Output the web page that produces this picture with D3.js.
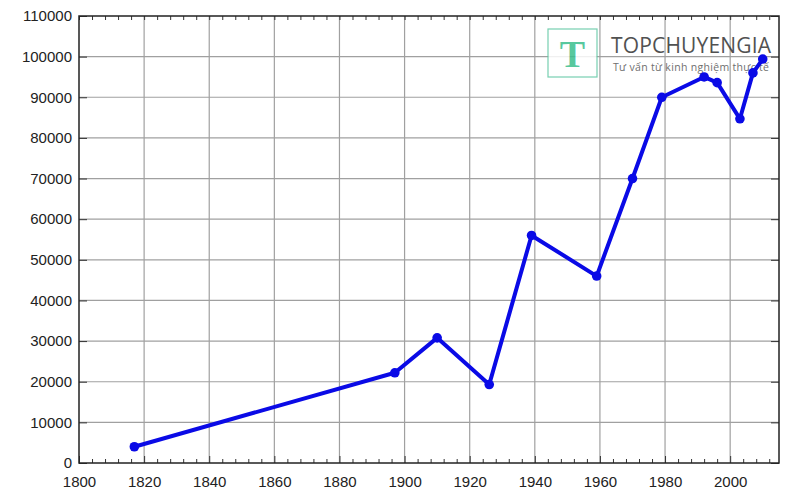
<!DOCTYPE html>
<html><head><meta charset="utf-8">
<script src="https://cdn.jsdelivr.net/npm/d3@7"></script>
<style>body{margin:0;background:#fff}svg{display:block}</style>
</head><body>
<script>
const years = [1817, 1897, 1910, 1926, 1939, 1959, 1970, 1979, 1992, 1996, 2003, 2007, 2010];
const values = [4000, 22200, 30800, 19300, 56000, 46000, 70000, 90000, 95000, 93600, 84700, 96000, 99400];
const xTicks = [1800, 1820, 1840, 1860, 1880, 1900, 1920, 1940, 1960, 1980, 2000];
const yTicks = [0,10000,20000,30000,40000,50000,60000,70000,80000,90000,100000,110000];

const W = 800, H = 500;
const m = {left:79, right:21, top:16, bottom:37};
const svg = d3.select("body").append("svg").attr("width",W).attr("height",H);
const x = d3.scaleLinear().domain([1800,2015]).range([m.left, W-m.right]);
const y = d3.scaleLinear().domain([0,110000]).range([H-m.bottom, m.top]);
const font = "'Liberation Sans', Arial, sans-serif";

// grid
const g = svg.append("g");
g.selectAll(".vx").data(xTicks.slice(1)).join("line")
  .attr("x1",d=>x(d)).attr("x2",d=>x(d)).attr("y1",y(0)).attr("y2",y(110000))
  .attr("stroke","#a0a0a0").attr("stroke-width",1.2);
g.selectAll(".hy").data(yTicks.slice(1,-1)).join("line")
  .attr("x1",x(1800)).attr("x2",x(2015)).attr("y1",d=>y(d)).attr("y2",d=>y(d))
  .attr("stroke","#a0a0a0").attr("stroke-width",1.2);

// axes
const minor = d3.range(1804, 2015, 4).filter(d=>d%20!==0);
svg.append("g").attr("transform",`translate(0,${y(0)})`)
  .call(d3.axisBottom(x).tickValues(xTicks).tickFormat(d3.format("d")).tickSize(-7).tickPadding(13))
  .call(a=>a.select(".domain").remove())
  .call(a=>a.selectAll("text").attr("font-size",15).attr("font-family",font).attr("fill","#222"))
  .call(a=>a.selectAll("line").attr("stroke","#333"));
svg.append("g").attr("transform",`translate(0,${y(0)})`)
  .call(d3.axisBottom(x).tickValues(minor).tickFormat("").tickSize(-4))
  .call(a=>a.select(".domain").remove())
  .call(a=>a.selectAll("line").attr("stroke","#333"));
svg.append("g").attr("transform",`translate(0,${y(110000)})`)
  .call(d3.axisTop(x).tickValues(minor.concat(xTicks)).tickFormat("").tickSize(-4))
  .call(a=>a.select(".domain").remove())
  .call(a=>a.selectAll("line").attr("stroke","#333"));
svg.append("g").attr("transform",`translate(${x(1800)},0)`)
  .call(d3.axisLeft(y).tickValues(yTicks).tickFormat(d3.format("d")).tickSize(-8).tickPadding(7))
  .call(a=>a.select(".domain").remove())
  .call(a=>a.selectAll("text").attr("font-size",15).attr("font-family",font).attr("fill","#222"))
  .call(a=>a.selectAll("line").attr("stroke","#333"));
svg.append("g").attr("transform",`translate(${x(2015)},0)`)
  .call(d3.axisRight(y).tickValues(yTicks).tickFormat("").tickSize(-8))
  .call(a=>a.select(".domain").remove())
  .call(a=>a.selectAll("line").attr("stroke","#333"));

// frame
svg.append("rect").attr("x",x(1800)).attr("y",y(110000))
  .attr("width",x(2015)-x(1800)).attr("height",y(0)-y(110000))
  .attr("fill","none").attr("stroke","#222").attr("stroke-width",1.5);

// watermark
const wm = svg.append("g").attr("opacity",0.85);
wm.append("rect").attr("x",548).attr("y",29).attr("width",49).attr("height",48)
  .attr("fill","#fff").attr("stroke","#5fc9a3").attr("stroke-width",1.2);
wm.append("text").attr("x",572.5).attr("y",67).attr("text-anchor","middle")
  .attr("font-family","'Liberation Serif', serif").attr("font-weight","bold").attr("font-size",38)
  .attr("fill","#3cbf8e").text("T");
wm.append("text").attr("x",611).attr("y",53).attr("font-family","'Open Sans', sans-serif")
  .attr("font-size",21).attr("fill","#333").attr("textLength",160).text("TOPCHUYENGIA");
wm.append("text").attr("x",613).attr("y",71).attr("font-family","'Open Sans', sans-serif")
  .attr("font-size",10.5).attr("fill","#555").attr("textLength",156).text("Tư vấn từ kinh nghiệm thực tế");

// data
const pts = years.map((d,i)=>[d,values[i]]);
svg.append("path").datum(pts)
  .attr("d", d3.line().x(d=>x(d[0])).y(d=>y(d[1])))
  .attr("fill","none").attr("stroke","#0a0ae6").attr("stroke-width",4).attr("stroke-linejoin","round");
svg.selectAll(".pt").data(pts).join("circle")
  .attr("cx",d=>x(d[0])).attr("cy",d=>y(d[1])).attr("r",4.8).attr("fill","#0a0ae6");
</script>
</body></html>
